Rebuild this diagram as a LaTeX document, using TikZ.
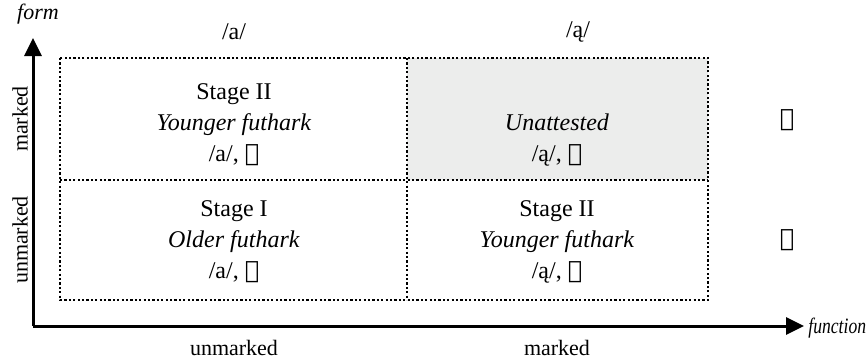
\documentclass[tikz,border=0pt]{standalone}
\usepackage{fontspec}
\setmainfont{Liberation Serif}
\newfontfamily\runefont{DejaVu Sans}
\usetikzlibrary{arrows.meta}
\definecolor{cellgray}{HTML}{ECEDEC}
\newcommand{\runeA}{{\runefont ᛆ}}
\newcommand{\runeB}{{\runefont ᚨ}}
\tikzset{
  grid/.style={draw=black, dash pattern=on 1.1pt off 1.1pt, line width=0.6pt},
  axis/.style={line width=1.5pt, -{Triangle[length=9pt,width=8.5pt]}},
  celltext/.style={align=center, font=\fontsize{12}{15.5}\selectfont},
  lbl/.style={font=\fontsize{11}{13}\selectfont},
  ilbl/.style={font=\fontsize{11}{13}\selectfont\itshape},
}
\begin{document}
\begin{tikzpicture}[x=0.5pt,y=-0.5pt]
\useasboundingbox (0,0) rectangle (868,360);
% shaded cell
\fill[cellgray] (407,58) rectangle (708,180);
% dotted grid
\draw[grid] (60,58) rectangle (708,300);
\draw[grid] (407,58) -- (407,300);
\draw[grid] (60,180) -- (708,180);
% axes
\coordinate (o) at (33,326);
\coordinate (ytip) at (33,38);
\coordinate (xtip) at (804,326);
\draw[axis] (o) -- (ytip);
\draw[axis] (o) -- (xtip);
% axis titles
\node[ilbl] (form) at (38,14) {form};
\node[ilbl, anchor=west, inner sep=0pt] (function) at (808,328) {\scalebox{0.8}[1]{function}};
% column heads
\node[celltext] (ca) at (234,32) {/a/};
\node[celltext] (cb) at (578,32) {/ą/};
\node[lbl] (bu) at (234,348) {unmarked};
\node[lbl] (bm) at (557,348) {marked};
% row heads
\node[lbl, rotate=90] (lm) at (20,119) {marked};
\node[lbl, rotate=90] (lu) at (20,240) {unmarked};
\node[celltext] (ra) at (787,120) {\runeA};
\node[celltext] (rb) at (787,240) {\runeB};
% cells
\node[celltext] (tl) at (234,125) {Stage II\\\textit{Younger futhark}\\/a/, \runeA};
\node[celltext] (tr) at (557,140) {\textit{Unattested}\\/ą/, \runeA};
\node[celltext] (bl) at (234,242) {Stage I\\\textit{Older futhark}\\/a/, \runeB};
\node[celltext] (br) at (557,242) {Stage II\\\textit{Younger futhark}\\/ą/, \runeB};
\end{tikzpicture}
\end{document}
